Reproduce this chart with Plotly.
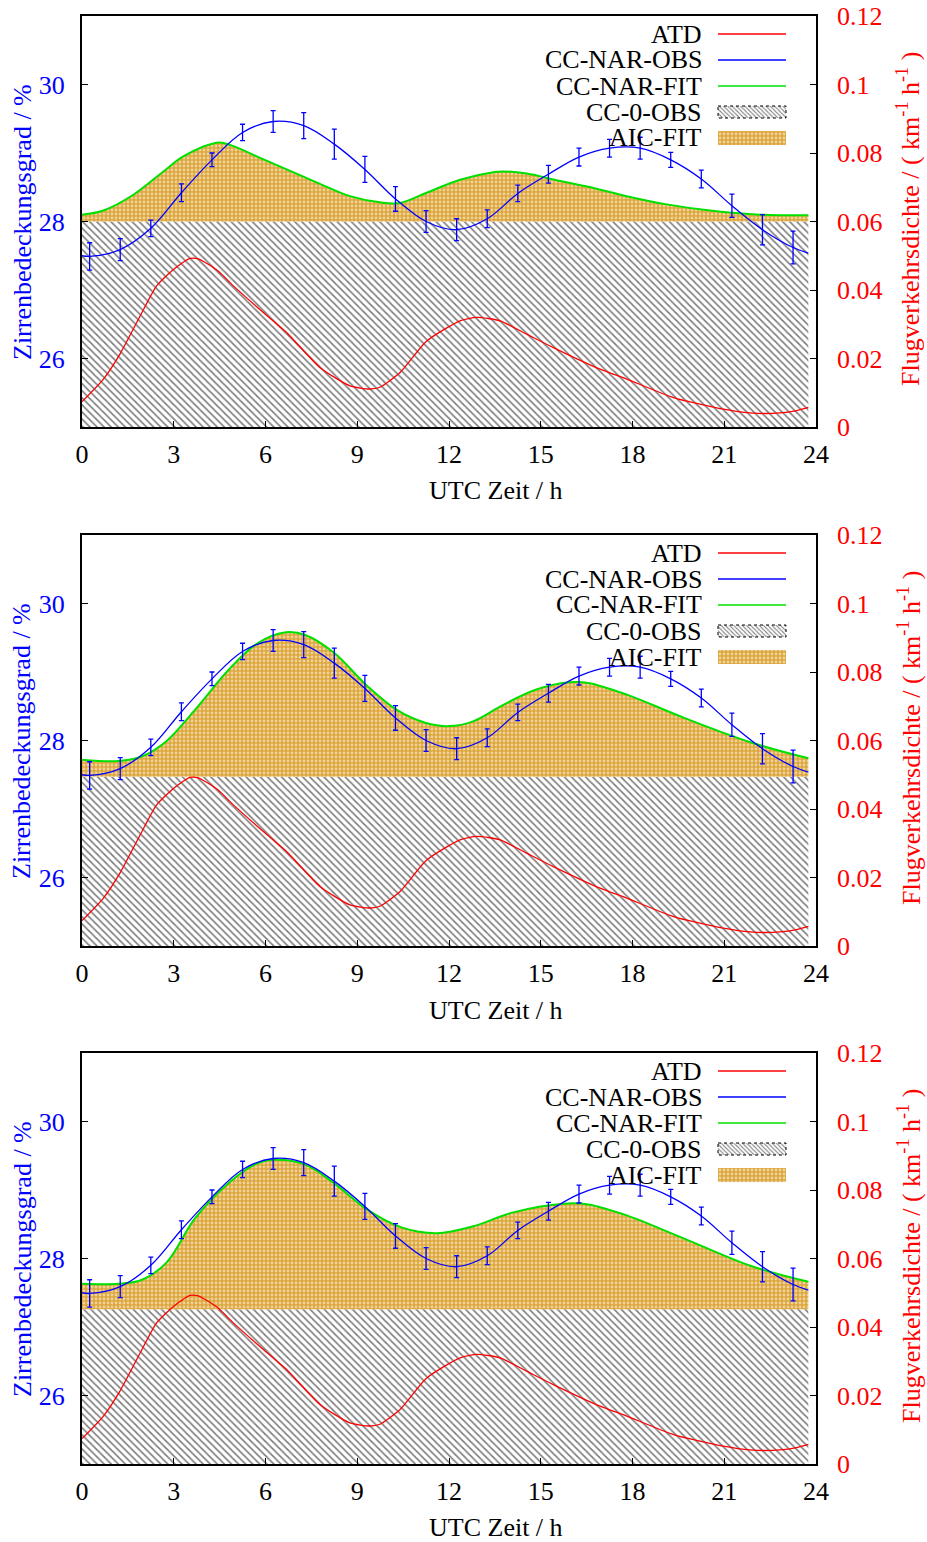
import plotly.graph_objects as go

# ---------------- data ----------------
obs_hours = [0.25 + i for i in range(24)]
cc_nar_obs = [27.49, 27.59, 27.90, 28.42, 28.90, 29.30, 29.46, 29.40, 29.13, 28.76, 28.33, 28.00,
              27.88, 28.04, 28.41, 28.69, 28.94, 29.07, 29.07, 28.90, 28.62, 28.23, 27.88, 27.62]
cc_nar_err = [0.20, 0.16, 0.12, 0.13, 0.10, 0.12, 0.16, 0.19, 0.22, 0.19, 0.18, 0.16,
              0.16, 0.13, 0.12, 0.13, 0.13, 0.13, 0.16, 0.11, 0.13, 0.17, 0.22, 0.24]
obs_curve_hours = [0.0] + obs_hours + [23.75]
obs_curve = [27.50] + cc_nar_obs + [27.54]

atd_hours = [0.0, 0.7, 1.24, 1.9, 2.44, 2.99, 3.53, 3.8, 4.46, 4.95, 5.93, 6.69, 7.78, 8.76, 9.42,
             9.74, 10.4, 11.27, 12.36, 12.91, 13.67, 14.54, 15.41, 16.94, 17.81, 19.34, 20.97,
             21.84, 22.83, 23.37, 23.75]
atd = [0.0074, 0.0140, 0.0213, 0.0324, 0.0412, 0.0460, 0.0492, 0.0491, 0.0455, 0.0412, 0.0334,
       0.0276, 0.0174, 0.0120, 0.0111, 0.0116, 0.0159, 0.0251, 0.0310, 0.0320, 0.0310, 0.0271,
       0.0232, 0.0169, 0.0140, 0.0086, 0.0052, 0.0041, 0.0041, 0.0048, 0.0057]

fit1_hours = [0.0, 0.70, 1.68, 2.66, 3.31, 4.29, 4.57, 4.95, 5.82, 6.69, 7.78, 8.76, 9.74, 10.40,
              11.27, 12.36, 13.45, 13.78, 14.54, 15.63, 16.72, 17.81, 19.12, 20.54, 22.17, 23.75]
fit1 = [28.10, 28.16, 28.39, 28.73, 28.95, 29.14, 29.15, 29.10, 28.93, 28.76, 28.55, 28.37, 28.28,
        28.27, 28.42, 28.61, 28.72, 28.73, 28.70, 28.59, 28.49, 28.37, 28.25, 28.16, 28.10, 28.09]

fit2_hours = [0.0, 1.19, 1.97, 2.76, 3.70, 4.79, 5.74, 6.67, 7.30, 8.24, 9.34, 10.28, 11.22, 12.00,
              12.79, 13.73, 14.83, 15.92, 16.55, 17.81, 19.69, 21.88, 23.75]
fit2 = [27.72, 27.70, 27.77, 27.99, 28.45, 29.03, 29.42, 29.58, 29.54, 29.28, 28.79, 28.45, 28.26,
        28.21, 28.28, 28.51, 28.74, 28.85, 28.84, 28.67, 28.33, 27.97, 27.74]

fit3_hours = [0.0, 1.19, 1.97, 2.76, 3.70, 4.79, 5.74, 6.36, 7.30, 8.24, 9.34, 10.47, 11.60, 12.79,
              14.07, 15.76, 16.55, 17.81, 19.69, 21.88, 23.75]
fit3 = [27.63, 27.63, 27.69, 27.94, 28.59, 29.10, 29.39, 29.44, 29.37, 29.10, 28.71, 28.45, 28.37,
        28.47, 28.67, 28.80, 28.79, 28.63, 28.29, 27.89, 27.66]

cc0_baseline = [28.0, 27.47, 27.26]
cc0_hours = [0.0, 23.75]

x_ticks = [0, 3, 6, 9, 12, 15, 18, 21, 24]
left_ticks = [26, 28, 30]
right_ticks = [0, 0.02, 0.04, 0.06, 0.08, 0.1, 0.12]
right_ticktext = ["0", "0.02", "0.04", "0.06", "0.08", "0.1", "0.12"]
legend_names = ["ATD", "CC-NAR-OBS", "CC-NAR-FIT", "CC-0-OBS", "AIC-FIT"]

fits = [(fit1_hours, fit1), (fit2_hours, fit2), (fit3_hours, fit3)]

# ---------------- layout geometry (pixels) ----------------
W, H = 927, 1542
ML, MR, MT, MB = 82, 111, 16, 78
PW, PH = W - ML - MR, H - MT - MB
panel_tops = [16, 535, 1053]
panel_h = 411
FONT = "Liberation Serif"
BLUE, RED, GREEN = "#0000ff", "#ff0000", "#00e000"
ORANGE = "#dda63c"


def px(xp):
    return (xp - ML) / PW


def py(yp):
    return (MT + PH - yp) / PH


hatch = dict(shape="\\", fgcolor="black", bgcolor="white", size=5, solidity=0.34)
cross = dict(shape=".", fgcolor="white", bgcolor=ORANGE, size=4, solidity=0.38)

fig = go.Figure()
layout = dict(width=W, height=H, margin=dict(l=ML, r=MR, t=MT, b=MB, pad=0, autoexpand=False),
              paper_bgcolor="white", plot_bgcolor="rgba(0,0,0,0)", showlegend=False,
              font=dict(family=FONT, size=26, color="black"))
annotations, shapes = [], []

for i in range(3):
    xa = "x" if i == 0 else f"x{i+1}"
    yl = "y" if i == 0 else f"y{2*i+1}"
    yr = f"y{2*i+2}"
    top = panel_tops[i]
    bot = top + panel_h
    dom = [py(bot), py(top)]
    base = cc0_baseline[i]
    fh, fv = fits[i]

    # CC-0-OBS hatched area
    fig.add_trace(go.Scatter(x=cc0_hours, y=[base, base], mode="lines", line=dict(width=0),
                             fill="tozeroy", fillpattern=hatch, xaxis=xa, yaxis=yl,
                             hoverinfo="skip"))
    # base for AIC-FIT
    fig.add_trace(go.Scatter(x=cc0_hours, y=[base, base], mode="lines", line=dict(width=0),
                             xaxis=xa, yaxis=yl, hoverinfo="skip"))
    # AIC-FIT area bounded by CC-NAR-FIT
    fig.add_trace(go.Scatter(x=fh, y=fv, mode="lines", line=dict(color=GREEN, width=2, shape="spline"),
                             fill="tonexty", fillpattern=cross, xaxis=xa, yaxis=yl))
    # CC-NAR-OBS
    fig.add_trace(go.Scatter(x=obs_curve_hours, y=obs_curve, mode="lines",
                             line=dict(color=BLUE, width=1.3, shape="spline"), xaxis=xa, yaxis=yl))
    fig.add_trace(go.Scatter(x=obs_hours, y=cc_nar_obs, mode="markers", marker=dict(size=1, color=BLUE),
                             error_y=dict(type="data", array=cc_nar_err, color=BLUE, thickness=1.3, width=2.5),
                             xaxis=xa, yaxis=yl))
    # ATD
    fig.add_trace(go.Scatter(x=atd_hours, y=atd, mode="lines",
                             line=dict(color=RED, width=1.3, shape="spline", smoothing=0.6),
                             xaxis=xa, yaxis=yr))

    xkey = "xaxis" if i == 0 else f"xaxis{i+1}"
    ylkey = "yaxis" if i == 0 else f"yaxis{2*i+1}"
    yrkey = f"yaxis{2*i+2}"
    layout[xkey] = dict(domain=[0, 1], anchor=yl, range=[0, 24], tickvals=x_ticks, ticks="inside",
                        ticklen=6, tickcolor="black", showline=True, mirror=True, linecolor="black",
                        linewidth=2, showgrid=False, zeroline=False, ticklabelstandoff=3,
                        automargin=False, tickfont=dict(family=FONT, size=26, color="black"))
    layout[ylkey] = dict(domain=dom, anchor=xa, range=[25, 31], tickvals=left_ticks, ticks="inside",
                         ticklen=6, tickcolor="black", showline=True, mirror=True, linecolor="black",
                         linewidth=2, showgrid=False, zeroline=False, ticklabelstandoff=10,
                         automargin=False, tickfont=dict(family=FONT, size=26, color=BLUE))
    layout[yrkey] = dict(overlaying=yl, side="right", anchor=xa, range=[0, 0.12], tickvals=right_ticks,
                         ticktext=right_ticktext, ticks="inside", ticklen=6, tickcolor="black",
                         showline=False, showgrid=False, zeroline=False, ticklabelstandoff=20,
                         automargin=False, tickfont=dict(family=FONT, size=26, color=RED))

    # axis titles (paper coords from pixel positions)
    annotations.append(dict(xref="paper", yref="paper", x=px(22), y=py(top + 206),
                            text="Zirrenbedeckungsgrad / %", textangle=-90, showarrow=False,
                            xanchor="center", yanchor="middle",
                            font=dict(family=FONT, size=26, color=BLUE)))
    annotations.append(dict(xref="paper", yref="paper", x=px(909), y=py(top + 203),
                            text="Flugverkehrsdichte / ( km<sup>-1</sup> h<sup>-1</sup> )",
                            textangle=-90, showarrow=False, xanchor="center", yanchor="middle",
                            font=dict(family=FONT, size=26, color=RED)))
    annotations.append(dict(xref="paper", yref="paper", x=px(496), y=py(top + 475), text="UTC Zeit / h",
                            showarrow=False, xanchor="center", yanchor="middle",
                            font=dict(family=FONT, size=26, color="black")))

    # legend
    row_offsets = [18, 44, 70, 96, 122]
    for name, off in zip(legend_names, row_offsets):
        annotations.append(dict(xref="paper", yref="paper", x=px(704), y=py(top + off), text=name,
                                xanchor="right", yanchor="middle", showarrow=False,
                                font=dict(family=FONT, size=26, color="black")))
    for col, off in zip([RED, BLUE, GREEN], row_offsets[:3]):
        shapes.append(dict(type="line", xref="x4", yref="y7", x0=718, x1=786, y0=top + off,
                           y1=top + off, line=dict(color=col, width=1.5)))
    yc = top + row_offsets[3]
    fig.add_trace(go.Scatter(x=[718, 786, 786, 718, 718], y=[yc - 6, yc - 6, yc + 6, yc + 6, yc - 6],
                             mode="lines", line=dict(color="black", width=1, dash="dot"), fill="toself",
                             fillpattern=dict(shape="\\", fgcolor="black", bgcolor="white", size=3,
                                              solidity=0.35),
                             xaxis="x4", yaxis="y7", hoverinfo="skip"))
    yc = top + row_offsets[4]
    fig.add_trace(go.Scatter(x=[718, 786, 786, 718, 718], y=[yc - 7, yc - 7, yc + 7, yc + 7, yc - 7],
                             mode="lines", line=dict(width=0), fill="toself", fillpattern=cross,
                             xaxis="x4", yaxis="y7", hoverinfo="skip"))

layout["xaxis4"] = dict(domain=[0, 1], anchor="y7", range=[ML, ML + PW], visible=False, fixedrange=True)
layout["yaxis7"] = dict(domain=[0, 1], anchor="x4", range=[MT + PH, MT], visible=False, fixedrange=True)
layout["annotations"] = annotations
layout["shapes"] = shapes
fig.update_layout(**layout)

fig.write_html("out.html", config={"displayModeBar": False},
               post_script="document.body.style.margin='0';document.body.style.overflow='hidden';")
